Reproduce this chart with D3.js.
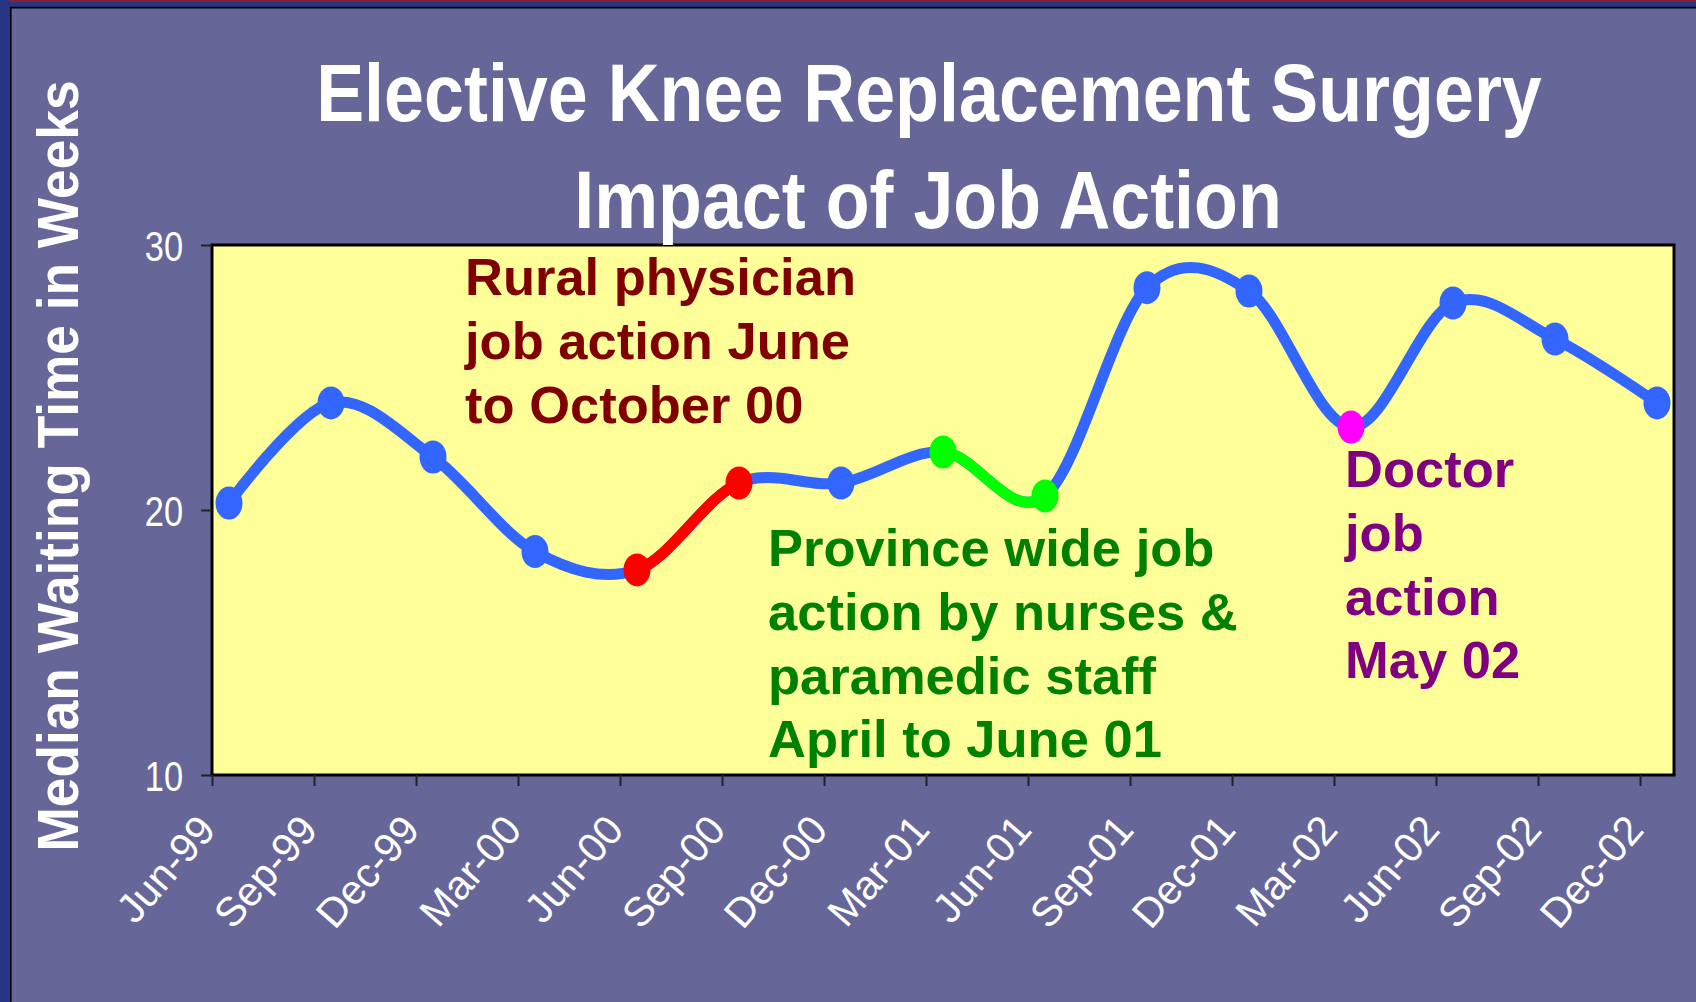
<!DOCTYPE html>
<html lang="en">
<head>
  <meta charset="utf-8">
  <title>Elective Knee Replacement Surgery</title>
  <script src="https://cdn.jsdelivr.net/npm/d3@7"></script>
  <style>
    html, body { margin: 0; padding: 0; background: #666699; }
    svg { display: block; }
    text { font-family: "Liberation Sans", Arial, sans-serif; }
  </style>
</head>
<body>
  <div id="chart"></div>

  <script>
    // quarterly categories shown on the x axis
    var quarters = ["Jun-99", "Sep-99", "Dec-99", "Mar-00", "Jun-00", "Sep-00", "Dec-00", "Mar-01",
      "Jun-01", "Sep-01", "Dec-01", "Mar-02", "Jun-02", "Sep-02", "Dec-02"];
    // median waiting time in weeks, one value per quarter
    var waitWeeks = [20.26, 24.04, 22.0, 18.43, 17.74, 21.02, 21.02, 22.19,
      20.53, 28.39, 28.26, 23.13, 27.81, 26.45, 24.04];
    var yTicks = [10, 20, 30];

    // job action periods (first and last quarter)
    var ruralAction = ["Jun-00", "Sep-00"];
    var nurseAction = ["Mar-01", "Jun-01"];
    var doctorAction = ["Mar-02"];

    var ruralNote = ["Rural physician", "job action June", "to October 00"];
    var nurseNote = ["Province wide job", "action by nurses &", "paramedic staff", "April to June 01"];
    var doctorNote = ["Doctor", "job", "action", "May 02"];

    var width = 1696, height = 1002;
    var plot = { left: 212, right: 1674, top: 245, bottom: 775 };
    var monthSpan = quarters.length * 3 - 2; // Jun-99 .. Dec-02, plus one month after

    var svg = d3.select('#chart')
      .append('svg')
      .attr('width', width)
      .attr('height', height);

    // slide frame
    svg.append('rect').attr('width', width).attr('height', height).attr('fill', '#666699');
    svg.append('rect').attr('x', 0).attr('y', 0).attr('width', width).attr('height', 7).attr('fill', '#283583');
    svg.append('rect').attr('x', 0).attr('y', 0).attr('width', width).attr('height', 2).attr('fill', '#8b2030');
    svg.append('rect').attr('x', 0).attr('y', 0).attr('width', 10).attr('height', height).attr('fill', '#283583');
    svg.append('path')
      .attr('d', 'M10.8,' + height + 'V7.6H' + width)
      .attr('fill', 'none')
      .attr('stroke', '#000')
      .attr('stroke-width', 1.6);

    var x = d3.scaleLinear().domain([0, monthSpan]).range([plot.left, plot.right]);
    var y = d3.scaleLinear().domain([10, 30]).range([plot.bottom, plot.top]);

    function qx(q) { return x(quarters.indexOf(q) * 3 + 0.5); }

    // plot area
    svg.append('rect')
      .attr('x', plot.left).attr('y', plot.top)
      .attr('width', plot.right - plot.left).attr('height', plot.bottom - plot.top)
      .attr('fill', '#ffff99')
      .attr('stroke', '#000')
      .attr('stroke-width', 3);

    // axes
    var yAxis = svg.append('g')
      .attr('transform', 'translate(' + plot.left + ',0)')
      .call(d3.axisLeft(y).tickValues(yTicks).tickSize(11).tickPadding(0));
    yAxis.select('.domain').remove();
    yAxis.selectAll('line').attr('stroke', '#222').attr('stroke-width', 2);
    yAxis.selectAll('text')
      .attr('fill', '#fff')
      .attr('font-size', 43)
      .attr('x', -29 / 0.8)
      .attr('dy', '0.36em')
      .attr('transform', 'scale(0.8,1)');

    var xAxis = svg.append('g')
      .attr('transform', 'translate(0,' + plot.bottom + ')')
      .call(d3.axisBottom(x)
        .tickValues(d3.range(0, monthSpan, 3))
        .tickFormat(function (d) { return quarters[d / 3]; })
        .tickSize(11));
    xAxis.select('.domain').remove();
    xAxis.selectAll('line').attr('stroke', '#222').attr('stroke-width', 2);
    xAxis.selectAll('text')
      .attr('fill', '#fff')
      .attr('font-size', 41)
      .attr('x', 0).attr('y', 0).attr('dy', 0)
      .attr('text-anchor', 'end')
      .attr('transform', 'translate(5,56) rotate(-49)');

    // waiting time line, smoothed like the spreadsheet
    var line = d3.line()
      .x(function (d, i) { return x(i * 3 + 0.5); })
      .y(function (d) { return y(d); })
      .curve(d3.curveCardinal.tension(0));

    var defs = svg.append('defs');
    function clipBetween(id, q0, q1) {
      defs.append('clipPath').attr('id', id)
        .append('rect')
        .attr('x', qx(q0)).attr('y', 0)
        .attr('width', qx(q1) - qx(q0)).attr('height', height);
    }
    clipBetween('clipRural', ruralAction[0], ruralAction[1]);
    clipBetween('clipNurse', nurseAction[0], nurseAction[1]);

    svg.append('path').datum(waitWeeks)
      .attr('d', line).attr('fill', 'none')
      .attr('stroke', '#3366ff').attr('stroke-width', 11)
      .attr('stroke-linejoin', 'round').attr('stroke-linecap', 'round');
    svg.append('path').datum(waitWeeks)
      .attr('d', line).attr('fill', 'none')
      .attr('clip-path', 'url(#clipRural)')
      .attr('stroke', '#ff0000').attr('stroke-width', 11);
    svg.append('path').datum(waitWeeks)
      .attr('d', line).attr('fill', 'none')
      .attr('clip-path', 'url(#clipNurse)')
      .attr('stroke', '#00ff00').attr('stroke-width', 11);

    function markerColor(q) {
      if (ruralAction.indexOf(q) >= 0) return '#ff0000';
      if (nurseAction.indexOf(q) >= 0) return '#00ff00';
      if (doctorAction.indexOf(q) >= 0) return '#ff00ff';
      return '#3366ff';
    }

    svg.append('g').selectAll('ellipse')
      .data(waitWeeks)
      .enter().append('ellipse')
      .attr('cx', function (d, i) { return x(i * 3 + 0.5); })
      .attr('cy', function (d) { return y(d); })
      .attr('rx', 13.5)
      .attr('ry', 16.5)
      .attr('fill', function (d, i) { return markerColor(quarters[i]); });

    // notes
    function note(lines, x0, y0, color) {
      svg.append('g').selectAll('text')
        .data(lines)
        .enter().append('text')
        .attr('x', x0)
        .attr('y', function (d, i) { return y0 + i * 63.8; })
        .attr('fill', color)
        .attr('font-size', 52.5)
        .attr('font-weight', 'bold')
        .text(function (d) { return d; });
    }
    note(ruralNote, 465, 295, '#800000');
    note(nurseNote, 768, 566, '#008000');
    note(doctorNote, 1345, 487, '#800080');

    // titles (condensed like the original)
    svg.append('text')
      .attr('transform', 'translate(929,121) scale(0.876,1)')
      .attr('text-anchor', 'middle')
      .attr('fill', '#fff').attr('font-size', 82).attr('font-weight', 'bold')
      .text('Elective Knee Replacement Surgery');
    svg.append('text')
      .attr('transform', 'translate(928,228) scale(0.876,1)')
      .attr('text-anchor', 'middle')
      .attr('fill', '#fff').attr('font-size', 82).attr('font-weight', 'bold')
      .text('Impact of Job Action');

    svg.append('text')
      .attr('transform', 'translate(78,466) rotate(-90) scale(0.934,1)')
      .attr('text-anchor', 'middle')
      .attr('fill', '#fff').attr('font-size', 57).attr('font-weight', 'bold')
      .text('Median Waiting Time in Weeks');
  </script>
</body>
</html>
